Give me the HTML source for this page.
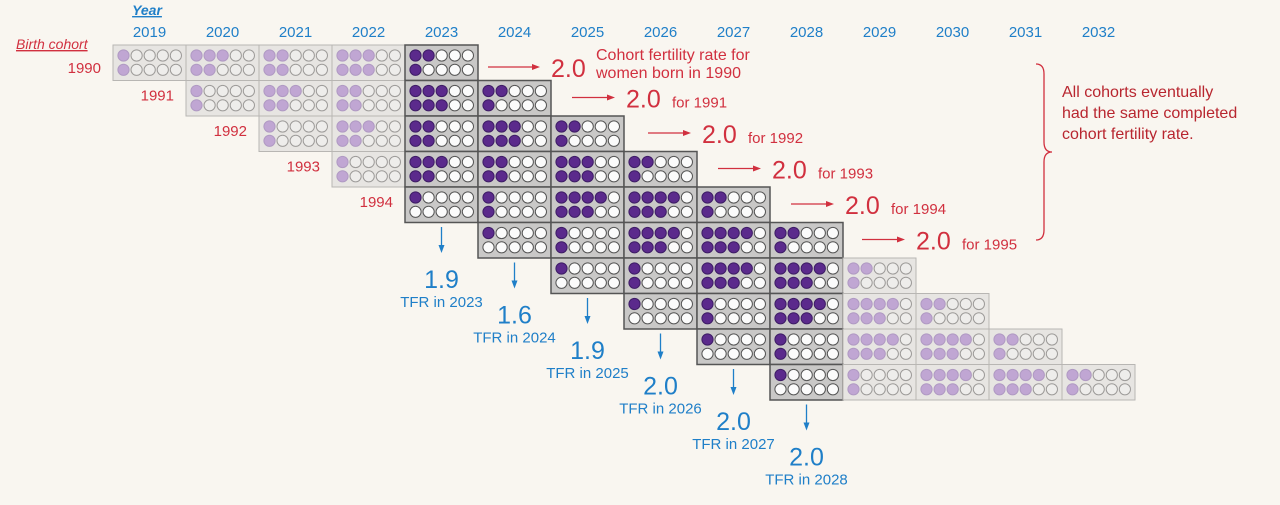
<!DOCTYPE html>
<html><head><meta charset="utf-8"><style>
html,body{margin:0;padding:0;background:#f9f6f0;}
svg{display:block;font-family:"Liberation Sans",sans-serif;}
</style></head><body>
<svg id="c" width="1280" height="505" viewBox="0 0 1280 505">
<rect width="1280" height="505" fill="#f9f6f0"/>
<g id="grid"></g>
<g id="ann"></g>
</svg>
<script>
const years = [2019,2020,2021,2022,2023,2024,2025,2026,2027,2028,2029,2030,2031,2032];
const cohorts = [1990,1991,1992,1993,1994,1995,1996,1997,1998,1999];
// births per 10 women (dots) by cohort, for 5 consecutive years starting at cohort index column
const cohortBirths = [
 [2,5,4,6,3],
 [2,5,4,6,3],
 [2,5,4,6,3],
 [2,5,4,6,3],
 [1,2,7,7,3],
 [1,2,7,7,3],
 [1,2,7,7,3],
 [1,2,7,7,3],
 [1,2,7,7,3],
 [1,2,7,7,3]
];
const highlightYears = [2023,2024,2025,2026,2027,2028];
const cfrLabels = ["2.0","2.0","2.0","2.0","2.0","2.0"];
const cfrNotes = ["","for 1991","for 1992","for 1993","for 1994","for 1995"];
const tfrYears = [2023,2024,2025,2026,2027,2028];
const tfrValues = ["1.9","1.6","1.9","2.0","2.0","2.0"];

const NS="http://www.w3.org/2000/svg";
const X0=113, CW=73, Y0=45, RH=35.5;
const xOf = y => X0 + years.indexOf(y)*CW;
const yOf = i => Y0 + i*RH;
function mk(tag, attrs, parent, text){
  const e=document.createElementNS(NS,tag);
  for(const k in attrs) e.setAttribute(k,attrs[k]);
  if(text!==undefined) e.textContent=text;
  parent.appendChild(e); return e;
}
const grid=document.getElementById('grid'), ann=document.getElementById('ann');
const RED="#d1303f", BLUE="#1f7fc8";

mk('text',{x:147,y:15,fill:BLUE,'font-size':14,'font-style':'italic','font-weight':'bold','text-anchor':'middle','text-decoration':'underline'},ann,'Year');
years.forEach(y=>{
  const t=mk('text',{x:xOf(y)+CW/2,y:37,fill:BLUE,'font-size':15,'text-anchor':'middle'},ann,String(y));
  
  
});
const bc=mk('text',{x:16,y:49,fill:RED,'font-size':14,'font-style':'italic','text-decoration':'underline'},ann,'Birth cohort');



cohorts.forEach((c,i)=>{
  const ry=yOf(i);
  if(i<5){
    const lx = i===0 ? 101 : xOf(years[i]) - 12;
    const ly = i===0 ? ry+28 : ry+20;
    const t=mk('text',{x:lx,y:ly,fill:RED,'font-size':15,'text-anchor':'end'},ann,String(c));
    
    
  }
  cohortBirths[i].forEach((n,k)=>{
    const yr=years[i+k];
    const hl=highlightYears.includes(yr);
    const cx=xOf(yr);
    const g=mk('g',{},grid);
    
    
    mk('rect',{x:cx,y:ry,width:CW,height:RH,fill:hl?'#c9c8c7':'#e7e5e2',stroke:hl?'#555':'#b8b6b3','stroke-width':hl?1.5:1},g);
    for(let d=0;d<10;d++){
      const row=d<5?0:1, col=d%5;
      const top=Math.ceil(n/2), bot=Math.floor(n/2);
      const filled = row===0 ? col<top : col<bot;
      const dot=mk('circle',{cx:cx+10.5+col*13.1,cy:ry+10.5+row*14.3,r:5.6,
        fill:filled?(hl?'#5b2a8c':'#c0a6d3'):(hl?'#fbfbfb':'#eeedeb'),
        stroke:filled?(hl?'#3e1d66':'#b09ac3'):(hl?'#555':'#9d9b99'),'stroke-width':1},g);
      
      
    }
  });
});

const arrowStarts=[488,572,648,718,791,862];
function arrowH(x1,x2,y,col,parent){
  mk('line',{x1:x1,y1:y,x2:x2-6,y2:y,stroke:col,'stroke-width':1.3},parent);
  mk('path',{d:`M${x2} ${y} L${x2-8} ${y-3} L${x2-8} ${y+3}Z`,fill:col},parent);
}
cfrLabels.forEach((v,i)=>{
  const g=mk('g',{},ann);
  
  
  const y=yOf(i)+(i===0?22:17);
  const x1=arrowStarts[i];
  const len = i===0?52:43;
  arrowH(x1,x1+len,y,RED,g);
  const tx=x1+len+11;
  mk('text',{x:tx,y:y+10,fill:RED,'font-size':25},g,v);
  if(i===0){
    mk('text',{x:tx+45,y:y-7,fill:RED,'font-size':16},g,'Cohort fertility rate for');
    mk('text',{x:tx+45,y:y+11,fill:RED,'font-size':16},g,'women born in 1990');
  } else {
    mk('text',{x:tx+46,y:y+10,fill:RED,'font-size':15},g,cfrNotes[i]);
  }
});
const br=mk('path',{d:'M1036 64 Q1044 64 1044 74 L1044 142 Q1044 152 1052 152 Q1044 152 1044 162 L1044 230 Q1044 240 1036 240',fill:'none',stroke:RED,'stroke-width':1.3},ann);


['All cohorts eventually','had the same completed','cohort fertility rate.'].forEach((s,i)=>{
  const t=mk('text',{x:1062,y:97+i*21,fill:'#b8262f','font-size':16},ann,s);
  
  
});

tfrYears.forEach((y,i)=>{
  const g=mk('g',{},ann);
  
  
  const cx=xOf(y)+CW/2;
  const top=yOf(i+5)+4.5;
  mk('line',{x1:cx,y1:top,x2:cx,y2:top+20,stroke:BLUE,'stroke-width':1.3},g);
  mk('path',{d:`M${cx} ${top+26} L${cx-3} ${top+18} L${cx+3} ${top+18}Z`,fill:BLUE},g);
  mk('text',{x:cx,y:top+61,fill:BLUE,'font-size':25,'text-anchor':'middle'},g,tfrValues[i]);
  mk('text',{x:cx,y:top+80,fill:BLUE,'font-size':15,'text-anchor':'middle'},g,'TFR in '+y);
});
</script>
</body></html>
